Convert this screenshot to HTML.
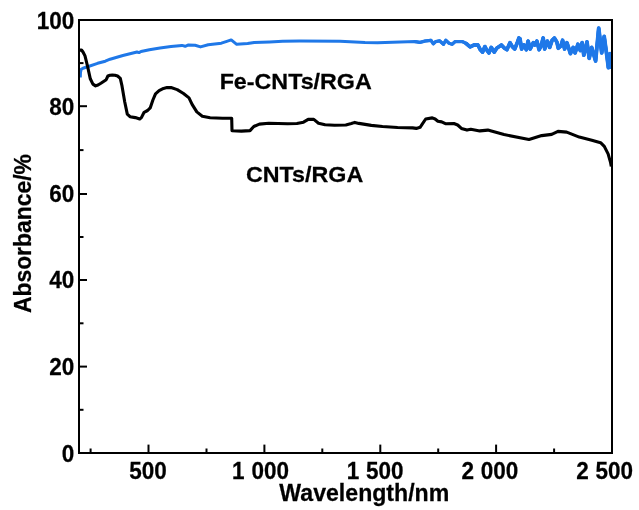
<!DOCTYPE html>
<html><head><meta charset="utf-8"><title>Absorbance</title>
<style>
html,body{margin:0;padding:0;background:#fff;}
svg{display:block;}
text{font-family:"Liberation Sans",Arial,sans-serif;font-weight:bold;fill:#000;stroke:#000;stroke-width:0.25px;}
</style></head><body>
<svg xmlns="http://www.w3.org/2000/svg" width="639" height="510" viewBox="0 0 639 510">
<rect width="639" height="510" fill="#fff"/>
<polyline points="80.3,77.5 80.5,72.0 81.3,69.3 83.0,68.2 87.6,66.7 97.6,63.3 105.3,61.2 110.1,59.2 122.9,55.5 137.0,52.0 139.0,52.6 141.0,51.5 149.4,49.7 160.0,48.0 171.0,46.5 181.9,45.4 185.2,46.3 188.5,44.9 195.1,45.2 200.5,46.9 208.2,44.7 221.4,43.2 226.8,41.4 231.2,39.9 236.7,44.3 247.6,43.6 254.2,42.5 269.6,41.9 282.7,41.2 299.8,41.0 340.0,41.3 365.0,42.6 377.6,42.8 415.2,41.6 420.0,42.4 424.7,41.1 431.0,40.3 433.3,43.8 435.6,41.6 439.6,40.8 443.5,44.3 445.8,40.3 449.0,43.2 452.1,44.3 455.2,41.6 462.3,41.6 466.2,43.5 470.1,46.9 474.0,45.0 477.9,45.0 480.3,49.7 482.6,52.1 484.9,46.6 486.5,49.7 488.9,52.9 491.2,47.4 494.3,52.1 496.7,48.2 501.4,45.0 504.5,48.2 506.9,49.7 510.0,42.7 512.3,46.6 514.7,49.0 517.0,43.5 518.9,38.0 520.0,38.8 521.6,49.0 523.9,45.0 526.3,49.7 528.1,41.1 530.2,49.0 533.3,42.7 534.9,45.0 536.9,41.1 539.1,49.7 541.1,45.8 543.2,38.0 544.7,49.0 547.4,41.1 549.7,47.4 552.1,40.3 554.4,38.0 556.8,41.9 558.3,48.2 561.0,45.8 562.6,40.3 564.6,49.0 566.9,42.7 568.5,47.4 570.4,53.6 573.2,47.4 575.1,52.9 577.9,44.3 580.3,50.5 582.1,42.7 583.8,55.2 587.0,41.9 589.2,58.3 591.7,47.4 595.6,61.0 598.7,28.1 601.7,52.9 604.2,36.4 606.9,56.0 608.4,67.7 610.0,53.6 611.1,67.0" fill="none" stroke="#1f78e8" stroke-width="3" stroke-linejoin="round" stroke-linecap="butt"/>
<polyline points="415.2,41.6 420.0,42.4 424.7,41.1 431.0,40.3 433.3,43.8 435.6,41.6 439.6,40.8 443.5,44.3 445.8,40.3 449.0,43.2 452.1,44.3 455.2,41.6 462.3,41.6 466.2,43.5 470.1,46.9 474.0,45.0 477.9,45.0 480.3,49.7 482.6,52.1 484.9,46.6 486.5,49.7 488.9,52.9 491.2,47.4 494.3,52.1 496.7,48.2 501.4,45.0 504.5,48.2 506.9,49.7 510.0,42.7 512.3,46.6 514.7,49.0 517.0,43.5 518.9,38.0 520.0,38.8 521.6,49.0 523.9,45.0 526.3,49.7 528.1,41.1 530.2,49.0 533.3,42.7 534.9,45.0 536.9,41.1 539.1,49.7 541.1,45.8 543.2,38.0 544.7,49.0 547.4,41.1 549.7,47.4 552.1,40.3 554.4,38.0 556.8,41.9 558.3,48.2 561.0,45.8 562.6,40.3 564.6,49.0 566.9,42.7 568.5,47.4 570.4,53.6 573.2,47.4 575.1,52.9 577.9,44.3 580.3,50.5 582.1,42.7 583.8,55.2 587.0,41.9 589.2,58.3 591.7,47.4 595.6,61.0 598.7,28.1 601.7,52.9 604.2,36.4 606.9,56.0 608.4,67.7 610.0,53.6 611.1,67.0" fill="none" stroke="#1f78e8" stroke-width="3.3" stroke-linejoin="round" stroke-linecap="round"/>
<polyline points="466.2,43.5 470.1,46.9 474.0,45.0 477.9,45.0 480.3,49.7 482.6,52.1 484.9,46.6 486.5,49.7 488.9,52.9 491.2,47.4 494.3,52.1 496.7,48.2 501.4,45.0 504.5,48.2 506.9,49.7 510.0,42.7 512.3,46.6 514.7,49.0 517.0,43.5 518.9,38.0 520.0,38.8 521.6,49.0 523.9,45.0 526.3,49.7 528.1,41.1 530.2,49.0 533.3,42.7 534.9,45.0 536.9,41.1 539.1,49.7 541.1,45.8 543.2,38.0 544.7,49.0 547.4,41.1 549.7,47.4 552.1,40.3 554.4,38.0 556.8,41.9 558.3,48.2 561.0,45.8 562.6,40.3 564.6,49.0 566.9,42.7 568.5,47.4 570.4,53.6 573.2,47.4 575.1,52.9 577.9,44.3 580.3,50.5 582.1,42.7 583.8,55.2 587.0,41.9 589.2,58.3 591.7,47.4 595.6,61.0 598.7,28.1 601.7,52.9 604.2,36.4 606.9,56.0 608.4,67.7 610.0,53.6 611.1,67.0" fill="none" stroke="#1f78e8" stroke-width="3.8" stroke-linejoin="round" stroke-linecap="round"/>
<polyline points="79.7,50.6 80.5,50.1 81.5,50.0 83.0,52.0 85.0,55.9 87.6,66.5 90.3,78.8 92.9,84.1 95.6,85.9 98.0,85.0 100.9,83.2 106.2,79.7 107.9,76.0 110.0,75.2 112.3,75.0 115.0,75.2 117.6,76.0 120.3,78.4 122.0,85.9 124.7,101.7 127.3,114.1 130.0,116.7 135.3,117.6 139.7,119.0 141.4,117.6 144.1,112.3 147.6,110.5 150.2,107.9 152.9,100.0 155.5,93.8 159.1,90.6 163.5,88.4 167.0,87.6 171.0,87.5 177.2,89.6 183.5,93.5 189.0,97.9 192.1,104.4 196.8,111.9 202.3,116.2 210.1,117.7 222.6,118.2 231.7,118.2 232.0,130.7 241.4,131.1 250.0,130.6 253.8,126.5 259.4,124.1 268.8,123.2 287.6,123.7 296.9,123.5 303.5,122.2 308.2,119.4 313.8,119.4 318.5,123.2 325.1,124.7 334.5,125.2 345.8,125.0 351.4,123.5 354.8,122.4 358.9,123.4 371.3,125.4 382.5,126.5 397.6,127.5 412.6,127.9 416.3,128.4 420.1,127.3 422.9,123.2 425.7,119.0 432.3,117.9 435.1,119.0 437.9,121.3 441.7,121.9 445.4,123.7 453.9,123.5 457.7,125.0 461.4,128.4 467.0,130.1 470.8,129.2 479.8,130.9 487.8,130.1 504.0,134.6 529.0,139.4 541.7,135.6 551.7,134.4 558.0,131.4 566.7,132.1 579.3,137.1 591.8,140.2 600.6,142.7 604.3,146.4 608.1,153.9 610.6,162.7 611.3,166.5" fill="none" stroke="#000" stroke-width="3.1" stroke-linejoin="round" stroke-linecap="butt"/>
<rect x="79.0" y="20.0" width="533.0" height="433.0" fill="none" stroke="#000" stroke-width="2"/>
<g stroke="#000" stroke-width="2">
<line x1="79.0" y1="409.8" x2="83.5" y2="409.8"/>
<line x1="79.0" y1="366.6" x2="87.0" y2="366.6"/>
<line x1="79.0" y1="323.3" x2="83.5" y2="323.3"/>
<line x1="79.0" y1="280.0" x2="87.0" y2="280.0"/>
<line x1="79.0" y1="237.0" x2="83.5" y2="237.0"/>
<line x1="79.0" y1="194.0" x2="87.0" y2="194.0"/>
<line x1="79.0" y1="150.1" x2="83.5" y2="150.1"/>
<line x1="79.0" y1="106.2" x2="87.0" y2="106.2"/>
<line x1="79.0" y1="63.1" x2="83.5" y2="63.1"/>
<line x1="90.6" y1="453.0" x2="90.6" y2="448.5"/>
<line x1="148.5" y1="453.0" x2="148.5" y2="444.6"/>
<line x1="206.5" y1="453.0" x2="206.5" y2="448.5"/>
<line x1="264.4" y1="453.0" x2="264.4" y2="444.6"/>
<line x1="322.3" y1="453.0" x2="322.3" y2="448.5"/>
<line x1="380.3" y1="453.0" x2="380.3" y2="444.6"/>
<line x1="438.2" y1="453.0" x2="438.2" y2="448.5"/>
<line x1="496.1" y1="453.0" x2="496.1" y2="444.6"/>
<line x1="554.1" y1="453.0" x2="554.1" y2="448.5"/>
</g>
<text transform="translate(74.3,461.8) scale(0.9615,1)" font-size="23.4" text-anchor="end">0</text>
<text transform="translate(74.3,374.8) scale(0.9615,1)" font-size="23.4" text-anchor="end">20</text>
<text transform="translate(74.3,288.4) scale(0.9615,1)" font-size="23.4" text-anchor="end">40</text>
<text transform="translate(74.3,202.2) scale(0.9615,1)" font-size="23.4" text-anchor="end">60</text>
<text transform="translate(74.3,114.9) scale(0.9615,1)" font-size="23.4" text-anchor="end">80</text>
<text transform="translate(74.3,29.2) scale(0.9615,1)" font-size="23.4" text-anchor="end">100</text>
<text transform="translate(147.9,478.8) scale(0.9615,1)" font-size="23.4" word-spacing="0.6" text-anchor="middle">500</text>
<text transform="translate(260.5,478.8) scale(0.9615,1)" font-size="23.4" word-spacing="0.6" text-anchor="middle">1 000</text>
<text transform="translate(375.2,478.8) scale(0.9615,1)" font-size="23.4" word-spacing="0.6" text-anchor="middle">1 500</text>
<text transform="translate(489.9,478.8) scale(0.9615,1)" font-size="23.4" word-spacing="0.6" text-anchor="middle">2 000</text>
<text transform="translate(604.7,478.8) scale(0.9615,1)" font-size="23.4" word-spacing="0.6" text-anchor="middle">2 500</text>
<text transform="translate(364.3,501.0) scale(0.9887,1)" font-size="23.4" text-anchor="middle">Wavelength/nm</text>
<text transform="translate(31.1,233.6) rotate(-90) scale(0.9786,1)" font-size="23.4" text-anchor="middle">Absorbance/%</text>
<text transform="translate(295.7,89) scale(1.044,1)" font-size="22.3" text-anchor="middle">Fe-CNTs/RGA</text>
<text transform="translate(304.6,182) scale(1.044,1)" font-size="22.3" text-anchor="middle">CNTs/RGA</text>
</svg>
</body></html>
